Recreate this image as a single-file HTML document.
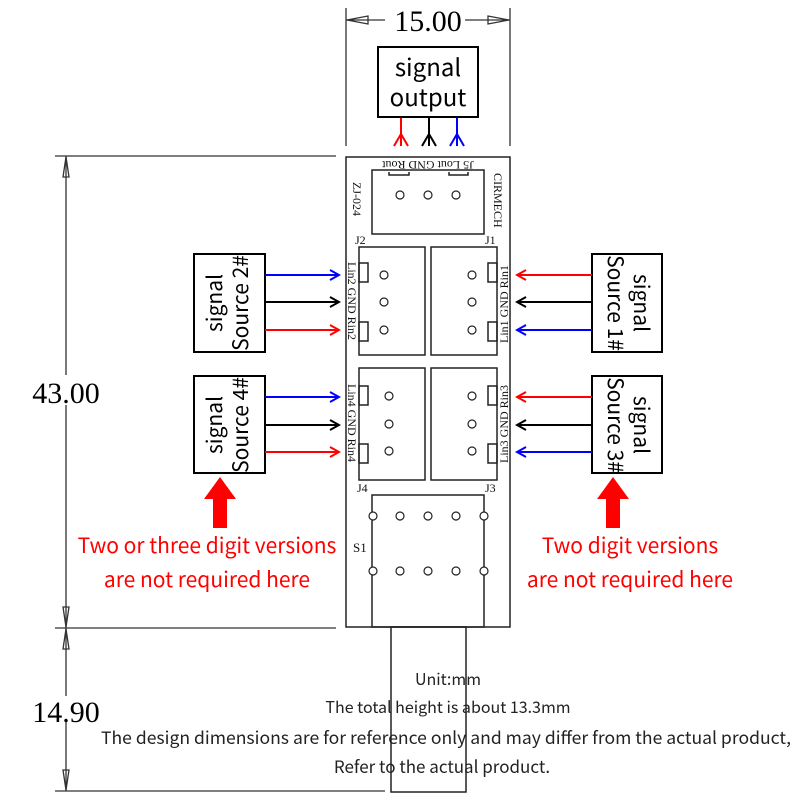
<!DOCTYPE html>
<html><head><meta charset="utf-8"><style>
html,body{margin:0;padding:0;background:#fff;}
svg{display:block;}
.s{font-family:"Noto Sans CJK SC","Liberation Sans",sans-serif;}
.r{font-family:"Liberation Serif",serif;}
</style></head><body>
<svg width="800" height="800" viewBox="0 0 800 800" xmlns="http://www.w3.org/2000/svg">
<defs>
<marker id="ab" markerWidth="12" markerHeight="12" refX="10" refY="6" orient="auto" markerUnits="userSpaceOnUse"><path d="M1,1 L10,6 L1,11" fill="none" stroke="#00f" stroke-width="2"/></marker>
<marker id="ak" markerWidth="12" markerHeight="12" refX="10" refY="6" orient="auto" markerUnits="userSpaceOnUse"><path d="M1,1 L10,6 L1,11" fill="none" stroke="#000" stroke-width="2"/></marker>
<marker id="ar" markerWidth="12" markerHeight="12" refX="10" refY="6" orient="auto" markerUnits="userSpaceOnUse"><path d="M1,1 L10,6 L1,11" fill="none" stroke="#f00" stroke-width="2"/></marker>
</defs>
<g stroke="#333" stroke-width="1.3" fill="none">
<line x1="346" y1="8" x2="346" y2="146"/><line x1="510" y1="8" x2="510" y2="146"/>
<line x1="346" y1="20" x2="385" y2="20"/><line x1="465" y1="20" x2="510" y2="20"/>
<path d="M347,20 L368,16 L368,24 Z"/><path d="M509,20 L488,16 L488,24 Z"/>
<line x1="55" y1="156" x2="336" y2="156"/><line x1="55" y1="628" x2="336" y2="628"/><line x1="55" y1="791" x2="385" y2="791"/>
<line x1="66" y1="156" x2="66" y2="375"/><line x1="66" y1="405" x2="66" y2="696"/><line x1="66" y1="722" x2="66" y2="791"/>
<path d="M66,157 L63,177 L69,177 Z"/><path d="M66,627 L63,607 L69,607 Z"/>
<path d="M66,629 L63,649 L69,649 Z"/><path d="M66,790 L63,770 L69,770 Z"/>
</g>
<text x="428" y="31" class="r" font-size="30" text-anchor="middle">15.00</text>
<text x="66" y="403" class="r" font-size="30" text-anchor="middle">43.00</text>
<text x="66" y="722" class="r" font-size="30" text-anchor="middle">14.90</text>
<rect x="378" y="47" width="100" height="70" fill="none" stroke="#000" stroke-width="2"/>
<text x="428" y="76" class="s" font-size="24" text-anchor="middle">signal</text>
<text x="428" y="106" class="s" font-size="24" text-anchor="middle">output</text>
<g stroke-width="2" fill="none">
<line x1="401" y1="118" x2="401" y2="146" stroke="#f00"/><path d="M394,146 L401,134 L408,146" stroke="#f00"/>
<line x1="429" y1="118" x2="429" y2="146" stroke="#000"/><path d="M422,146 L429,134 L436,146" stroke="#000"/>
<line x1="457" y1="118" x2="457" y2="146" stroke="#00f"/><path d="M450,146 L457,134 L464,146" stroke="#00f"/>
</g>
<g stroke="#222" stroke-width="1.5" fill="none">
<rect x="346" y="157" width="164" height="470"/>
<rect x="372" y="170" width="112" height="64"/>
<rect x="359" y="247" width="66" height="108"/>
<rect x="431" y="247" width="66" height="108"/>
<rect x="359" y="368" width="66" height="112"/>
<rect x="431" y="368" width="66" height="112"/>
<rect x="372" y="495" width="112" height="132"/>
<rect x="391" y="627" width="75" height="165"/>
<path d="M389,172 V175 H409 V172 M449,172 V175 H468 V172"/>
<rect x="359" y="263" width="9" height="19"/><rect x="359" y="322" width="9" height="19"/>
<rect x="488" y="263" width="9" height="19"/><rect x="488" y="322" width="9" height="19"/>
<rect x="359" y="386" width="9" height="19"/><rect x="359" y="444" width="9" height="19"/>
<rect x="488" y="386" width="9" height="19"/><rect x="488" y="444" width="9" height="19"/>
</g>
<g stroke="#222" stroke-width="1.2" fill="#fff">
<circle cx="400" cy="195" r="4"/><circle cx="428" cy="195" r="4"/><circle cx="456" cy="195" r="4"/>
<circle cx="384" cy="275" r="4"/><circle cx="384" cy="302" r="4"/><circle cx="384" cy="330" r="4"/>
<circle cx="472" cy="275" r="4"/><circle cx="472" cy="302" r="4"/><circle cx="472" cy="330" r="4"/>
<circle cx="389" cy="396" r="4"/><circle cx="389" cy="424" r="4"/><circle cx="389" cy="451" r="4"/>
<circle cx="472" cy="396" r="4"/><circle cx="472" cy="424" r="4"/><circle cx="472" cy="451" r="4"/>
<circle cx="373" cy="516" r="4"/><circle cx="400" cy="516" r="4"/><circle cx="428" cy="516" r="4"/><circle cx="456" cy="516" r="4"/><circle cx="484" cy="516" r="4"/>
<circle cx="373" cy="571" r="4"/><circle cx="400" cy="571" r="4"/><circle cx="428" cy="571" r="4"/><circle cx="456" cy="571" r="4"/><circle cx="484" cy="571" r="4"/>
</g>
<g class="r" font-size="12" fill="#111">
<text x="428" y="161" text-anchor="middle" transform="rotate(180 428 161)">J5 Lout GND Rout</text>
<text transform="translate(353,182) rotate(90)">ZJ-024</text>
<text transform="translate(494,173) rotate(90)">CIRMECH</text>
<text x="355" y="244">J2</text><text x="485" y="244">J1</text>
<text x="357" y="492">J4</text><text x="485" y="492">J3</text>
<text x="353" y="552" font-size="13">S1</text>
<text transform="translate(348,262) rotate(90)">Lin2 GND Rin2</text>
<text transform="translate(348,384) rotate(90)">Lin4 GND Rin4</text>
<text transform="translate(508,343) rotate(-90)">Lin1 GND Rin1</text>
<text transform="translate(508,463) rotate(-90)">Lin3 GND Rin3</text>
</g>
<g fill="none" stroke="#000" stroke-width="2">
<rect x="194" y="254" width="71" height="98"/><rect x="194" y="376" width="71" height="97"/>
<rect x="592" y="254" width="70" height="98"/><rect x="592" y="376" width="70" height="97"/>
</g>
<g class="s" font-size="21" text-anchor="middle">
<text transform="translate(222,303) rotate(-90)">signal</text>
<text transform="translate(248,303) rotate(-90)">Source 2#</text>
<text transform="translate(222,425) rotate(-90)">signal</text>
<text transform="translate(248,425) rotate(-90)">Source 4#</text>
<text transform="translate(634,303) rotate(90)">signal</text>
<text transform="translate(608,303) rotate(90)">Source 1#</text>
<text transform="translate(634,425) rotate(90)">signal</text>
<text transform="translate(608,425) rotate(90)">Source 3#</text>
</g>
<g stroke-width="2">
<line x1="265" y1="275" x2="339" y2="275" stroke="#00f" marker-end="url(#ab)"/>
<line x1="265" y1="302" x2="339" y2="302" stroke="#000" marker-end="url(#ak)"/>
<line x1="265" y1="330" x2="339" y2="330" stroke="#f00" marker-end="url(#ar)"/>
<line x1="265" y1="397" x2="339" y2="397" stroke="#00f" marker-end="url(#ab)"/>
<line x1="265" y1="425" x2="339" y2="425" stroke="#000" marker-end="url(#ak)"/>
<line x1="265" y1="452" x2="339" y2="452" stroke="#f00" marker-end="url(#ar)"/>
<line x1="592" y1="275" x2="517" y2="275" stroke="#f00" marker-end="url(#ar)"/>
<line x1="592" y1="302" x2="517" y2="302" stroke="#000" marker-end="url(#ak)"/>
<line x1="592" y1="330" x2="517" y2="330" stroke="#00f" marker-end="url(#ab)"/>
<line x1="592" y1="397" x2="517" y2="397" stroke="#f00" marker-end="url(#ar)"/>
<line x1="592" y1="425" x2="517" y2="425" stroke="#000" marker-end="url(#ak)"/>
<line x1="592" y1="452" x2="517" y2="452" stroke="#00f" marker-end="url(#ab)"/>
</g>
<path d="M220,477 L236,499 L227,499 L227,528 L213,528 L213,499 L204,499 Z" fill="#f00"/>
<path d="M613,477 L629,499 L620,499 L620,528 L606,528 L606,499 L597,499 Z" fill="#f00"/>
<g class="s" font-size="21" fill="#f00" text-anchor="middle">
<text x="207" y="553">Two or three digit versions</text>
<text x="207" y="587">are not required here</text>
<text x="630" y="553">Two digit versions</text>
<text x="630" y="587">are not required here</text>
</g>
<g class="s" font-size="16" fill="#222">
<text x="448" y="685" text-anchor="middle">Unit:mm</text>
<text x="448" y="713" text-anchor="middle">The total height is about 13.3mm</text>
<text x="101" y="744" font-size="17" textLength="690" lengthAdjust="spacingAndGlyphs">The design dimensions are for reference only and may differ from the actual product,</text>
<text x="442" y="773" text-anchor="middle" font-size="17">Refer to the actual product.</text>
</g>
</svg>
</body></html>
